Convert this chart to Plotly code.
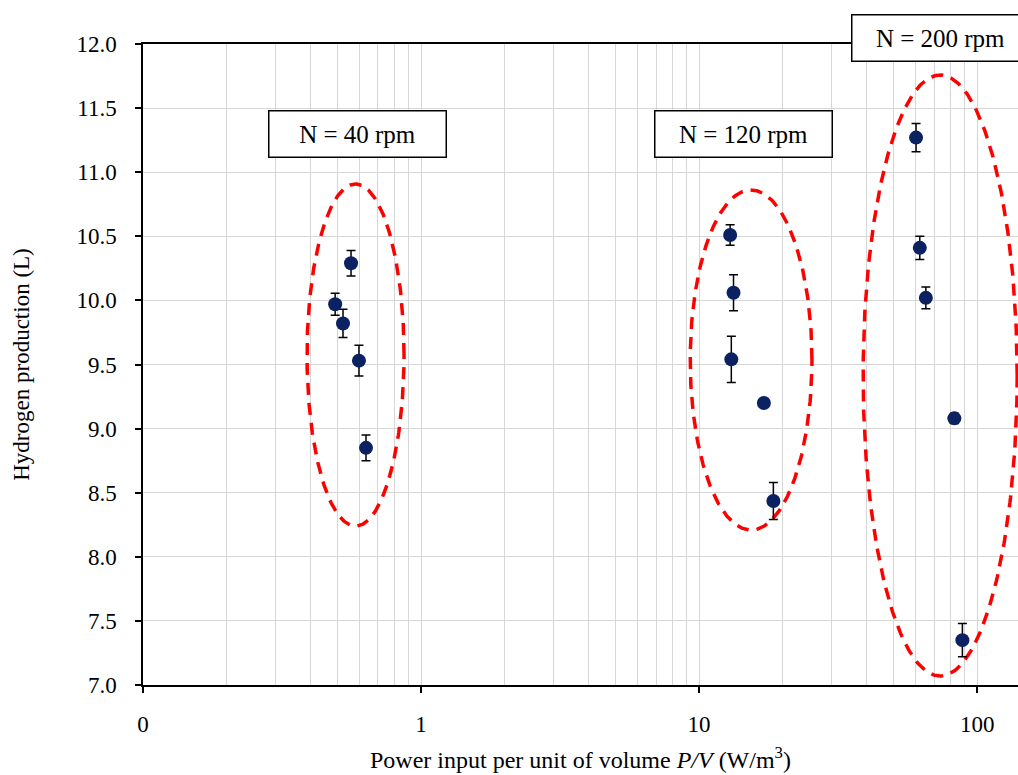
import numpy as np
import plotly.graph_objects as go

# ---- data ----
pv_40 = [0.491, 0.524, 0.560, 0.598, 0.634]
h2_40 = [9.97, 9.82, 10.29, 9.53, 8.85]
err_40 = [0.085, 0.11, 0.10, 0.12, 0.10]

pv_120 = [12.93, 13.3, 13.06, 17.1, 18.5]
h2_120 = [10.51, 10.06, 9.54, 9.20, 8.435]
err_120 = [0.08, 0.14, 0.18, 0.02, 0.145]

pv_200 = [60.3, 62.2, 65.4, 82.8, 88.5]
h2_200 = [11.27, 10.41, 10.02, 9.08, 7.35]
err_200 = [0.11, 0.09, 0.085, 0.04, 0.13]

group_labels = ["N = 40 rpm", "N = 120 rpm", "N = 200 rpm"]
# label box centres (log10 x, paper y)
label_pos = [(-0.228, 0.8596), (1.160, 0.8596), (1.869, 1.0094)]

# grouping ellipses: centre (log10 x), half-width (decades), centre y, half-height
ellipses = [(-0.2356, 0.1745, 9.574, 1.334),
            (1.187, 0.219, 9.535, 1.326),
            (1.867, 0.277, 9.414, 2.344)]

x_tickvals = [0.1, 1, 10, 100]
x_ticktext = ["0", "1", "10", "100"]

FONT = "Liberation Serif"
NAVY = "#0b2161"

fig = go.Figure()

t = np.linspace(0, 2 * np.pi, 361)
for cx, rx, cy, ry in ellipses:
    fig.add_trace(go.Scatter(
        x=10 ** (cx + rx * np.cos(t)), y=cy + ry * np.sin(t),
        mode="lines", line=dict(color="#ff0000", width=3.5, dash="12px,8px"),
        hoverinfo="skip", showlegend=False))

for xs, ys, es in [(pv_40, h2_40, err_40), (pv_120, h2_120, err_120), (pv_200, h2_200, err_200)]:
    fig.add_trace(go.Scatter(
        x=xs, y=ys, mode="markers",
        marker=dict(color=NAVY, size=14),
        error_y=dict(type="data", array=es, visible=True, color="black",
                     thickness=1.5, width=4.5),
        showlegend=False))

for txt, (lx, ly) in zip(group_labels, label_pos):
    fig.add_annotation(
        x=lx, y=ly, xref="x", yref="paper", xanchor="center", yanchor="middle",
        text=txt, showarrow=False,
        width=176, height=45, borderpad=0, borderwidth=1.5,
        bordercolor="black", bgcolor="white",
        font=dict(family=FONT, size=25, color="black"))

fig.update_xaxes(
    type="log", range=[-1, 2.147],
    tickmode="array", tickvals=x_tickvals, ticktext=x_ticktext,
    ticks="outside", ticklen=6, tickwidth=1.5, tickcolor="black",
    ticklabelstandoff=12,
    showgrid=True, gridcolor="#d6d6d6", gridwidth=1.2,
    minor=dict(dtick="D1", showgrid=True, gridcolor="#d6d6d6", gridwidth=1.2, ticks=""),
    showline=True, linecolor="black", linewidth=1.5, mirror=True,
    zeroline=False,
    tickfont=dict(family=FONT, size=23, color="black"),
    title=dict(text="Power input per unit of volume <i>P/V</i> (W/m<sup>3</sup>)",
               font=dict(family=FONT, size=24, color="black"), standoff=15))

fig.update_yaxes(
    range=[7, 12], dtick=0.5, tickformat=".1f",
    ticks="outside", ticklen=6, tickwidth=1.5, tickcolor="black",
    ticklabelstandoff=14,
    showgrid=True, gridcolor="#d6d6d6", gridwidth=1.2,
    showline=True, linecolor="black", linewidth=1.5, mirror=False,
    zeroline=False,
    tickfont=dict(family=FONT, size=23, color="black"),
    title=dict(text="Hydrogen production (L)",
               font=dict(family=FONT, size=23, color="black"), standoff=40))

fig.update_layout(
    width=1018, height=775,
    margin=dict(l=143, r=0, t=44, b=90),
    plot_bgcolor="white", paper_bgcolor="white",
    showlegend=False)

fig.write_html("out.html", config={"displayModeBar": False},
               post_script="document.body.style.margin='0';document.body.style.overflow='hidden';")
